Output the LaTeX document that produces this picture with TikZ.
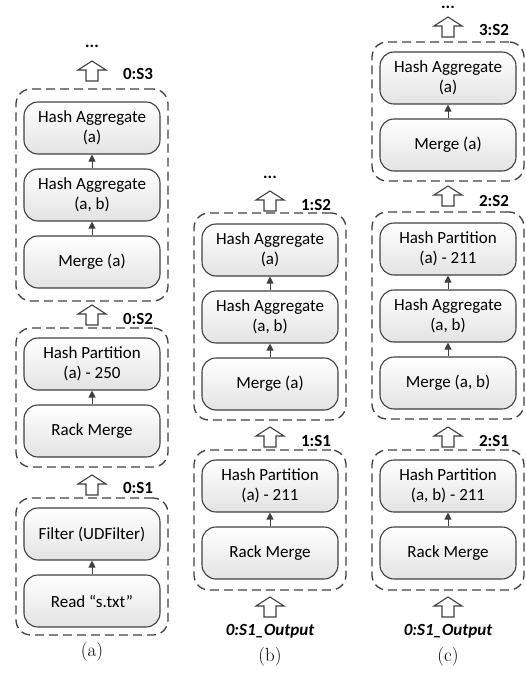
\documentclass[tikz,border=0pt]{standalone}
\usepackage{fontspec}
\newfontfamily\calibri{Carlito}
\usetikzlibrary{arrows.meta}
\definecolor{edge}{HTML}{404040}
\tikzset{
  opnode/.style={draw=edge, line width=1.1pt, rounded corners=14pt,
    top color=white, bottom color=black!11,
    minimum width=136pt, minimum height=52pt, inner sep=0pt, align=center,
    font=\calibri\fontsize{17}{20}\selectfont, text=black},
  stagebox/.style={draw=edge, line width=1.3pt, dash pattern=on 9pt off 5pt,
    rounded corners=15pt, minimum width=152pt, inner sep=0pt},
  flow/.style={draw=edge, line width=0.9pt, -{Triangle[width=7pt,length=7pt]}},
  blockline/.style={draw=edge, line width=1.1pt, fill=white, line join=miter},
  stagelabel/.style={font=\calibri\bfseries\fontsize{17}{20}\selectfont, inner sep=0pt},
  outlabel/.style={font=\calibri\bfseries\itshape\fontsize{17}{20}\selectfont, inner sep=0pt},
  dotslabel/.style={font=\calibri\bfseries\fontsize{17}{20}\selectfont, inner sep=0pt},
  caption/.style={font=\fontsize{19}{21}\selectfont, inner sep=0pt},
  blockup/.pic={\draw[blockline] (0,-10) -- (14,-1) -- (6,-1) -- (6,10) -- (-6,10) -- (-6,-1) -- (-14,-1) -- cycle;}
}
\begin{document}
\begin{tikzpicture}[x=1pt,y=-1pt]
\useasboundingbox (0,0) rectangle (526,679);

% ---------------- (a) ----------------
\node[dotslabel] (adots) at (92,46) {...};
\pic at (92,71) {blockup};
\node[stagelabel] (la3) at (138,74) {0:S3};
\node[stagebox, minimum height=212pt] (s03) at (92,195) {};
\node[opnode] (a31) at (92,128) {Hash Aggregate\\(a)};
\node[opnode] (a32) at (92,195) {Hash Aggregate\\(a, b)};
\node[opnode] (a33) at (92,262) {Merge (a)};
\draw[flow] (a33) -- (a32);
\draw[flow] (a32) -- (a31);

\pic at (92,315) {blockup};
\node[stagelabel] (la2) at (138,319) {0:S2};
\node[stagebox, minimum height=139pt] (s02) at (92,397.5) {};
\node[opnode] (a21) at (92,364) {Hash Partition\\(a) - 250};
\node[opnode] (a22) at (92,431) {Rack Merge};
\draw[flow] (a22) -- (a21);

\pic at (92,485) {blockup};
\node[stagelabel] (la1) at (138,488) {0:S1};
\node[stagebox, minimum height=137pt] (s01) at (92,566.5) {};
\node[opnode] (a11) at (92,534) {Filter (UDFilter)};
\node[opnode] (a12) at (92,601) {Read “s.txt”};
\draw[flow] (a12) -- (a11);
\node[caption] (capa) at (92,652) {(a)};

% ---------------- (b) ----------------
\node[dotslabel] (bdots) at (270,177) {...};
\pic at (270,201) {blockup};
\node[stagelabel] (lb2) at (316,205) {1:S2};
\node[stagebox, minimum height=207pt] (s12) at (270,316.5) {};
\node[opnode] (b21) at (270,250) {Hash Aggregate\\(a)};
\node[opnode] (b22) at (270,317) {Hash Aggregate\\(a, b)};
\node[opnode] (b23) at (270,384) {Merge (a)};
\draw[flow] (b23) -- (b22);
\draw[flow] (b22) -- (b21);

\pic at (270,437) {blockup};
\node[stagelabel] (lb1) at (316,441) {1:S1};
\node[stagebox, minimum height=140pt] (s11) at (270,520) {};
\node[opnode] (b11) at (270,486) {Hash Partition\\(a) - 211};
\node[opnode] (b12) at (270,553) {Rack Merge};
\draw[flow] (b12) -- (b11);

\pic at (270,607) {blockup};
\node[outlabel] (bout) at (270,631) {0:S1\_Output};
\node[caption] (capb) at (270,657) {(b)};

% ---------------- (c) ----------------
\node[dotslabel] (cdots) at (448,7) {...};
\pic at (448,27) {blockup};
\node[stagelabel] (lc3) at (494,30) {3:S2};
\node[stagebox, minimum height=139pt] (s32) at (448,111.5) {};
\node[opnode] (c31) at (448,78) {Hash Aggregate\\(a)};
\node[opnode] (c32) at (448,145) {Merge (a)};
\draw[flow] (c32) -- (c31);

\pic at (448,196) {blockup};
\node[stagelabel] (lc2) at (494,201) {2:S2};
\node[stagebox, minimum height=207pt] (s22) at (448,315.5) {};
\node[opnode] (c21) at (448,249) {Hash Partition\\(a) - 211};
\node[opnode] (c22) at (448,316) {Hash Aggregate\\(a, b)};
\node[opnode] (c23) at (448,383) {Merge (a, b)};
\draw[flow] (c23) -- (c22);
\draw[flow] (c22) -- (c21);

\pic at (448,437) {blockup};
\node[stagelabel] (lc1) at (494,441) {2:S1};
\node[stagebox, minimum height=140pt] (s21) at (448,520) {};
\node[opnode] (c11) at (448,486) {Hash Partition\\(a, b) - 211};
\node[opnode] (c12) at (448,553) {Rack Merge};
\draw[flow] (c12) -- (c11);

\pic at (448,607) {blockup};
\node[outlabel] (cout) at (448,631) {0:S1\_Output};
\node[caption] (capc) at (448,657) {(c)};
\end{tikzpicture}
\end{document}
